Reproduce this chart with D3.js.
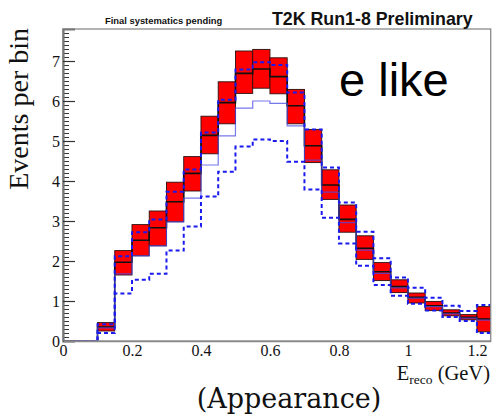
<!DOCTYPE html>
<html>
<head>
<meta charset="utf-8">
<script src="https://cdn.jsdelivr.net/npm/d3@7"></script>
<style>
  html, body { margin: 0; padding: 0; background: #fff; }
  svg { display: block; }
</style>
</head>
<body>
<div id="chart"></div>
<script>
// bins are 0.05 GeV wide, left edges
const binEdges = d3.range(0, 1.2501, 0.05).map(d => +d.toFixed(2));

// nominal prediction and its systematic band
const nominal = [0, 0, 0.35, 1.97, 2.52, 2.83, 3.48, 4.19, 5.14, 5.96, 6.69, 6.80, 6.61, 5.88, 4.88, 3.90, 3.04, 2.32, 1.73, 1.36, 1.09, 0.88, 0.70, 0.59, 0.55];
const bandLo  = [0, 0, 0.25, 1.65, 2.13, 2.38, 2.98, 3.75, 4.68, 5.43, 6.19, 6.32, 6.18, 5.43, 4.46, 3.54, 2.72, 2.04, 1.51, 1.21, 0.95, 0.76, 0.63, 0.53, 0.23];
const bandHi  = [0, 0, 0.46, 2.26, 2.91, 3.25, 3.97, 4.61, 5.62, 6.48, 7.25, 7.29, 7.08, 6.29, 5.29, 4.28, 3.40, 2.63, 1.96, 1.53, 1.20, 0.99, 0.78, 0.66, 0.86];

// other delta_CP predictions
const solidLine  = [0, 0, 0.33, 1.68, 2.13, 2.38, 2.98, 3.57, 4.40, 5.13, 5.82, 6.00, 5.94, 5.38, 4.52, 3.72, 2.96, 2.27, 1.69, 1.33, 1.07, 0.86, 0.68, 0.57, 0.52];
const dashedHigh = [0, 0, 0.42, 2.12, 2.72, 3.04, 3.73, 4.29, 5.21, 6.03, 6.79, 6.97, 6.90, 6.21, 5.29, 4.34, 3.46, 2.73, 2.07, 1.59, 1.33, 1.08, 0.88, 0.75, 0.90];
const dashedLow  = [0, 0, 0.20, 1.19, 1.53, 1.68, 2.26, 2.86, 3.61, 4.23, 4.86, 5.04, 5.00, 4.48, 3.79, 3.08, 2.44, 1.88, 1.40, 1.13, 0.93, 0.76, 0.60, 0.50, 0.20];

const xTicks = [0, 0.2, 0.4, 0.6, 0.8, 1, 1.2];

const W = 495, H = 415;
const m = { top: 29, right: 4.3, bottom: 74, left: 63 }; // frame at x 63..490.7, y 29..341

const svg = d3.select('#chart').append('svg')
  .attr('width', W).attr('height', H)
  .attr('viewBox', [0, 0, W, H]);

const x = d3.scaleLinear().domain([0, 1.24]).range([m.left, W - m.right]);
const y = d3.scaleLinear().domain([0, 7.8]).range([H - m.bottom, m.top]);

svg.append('clipPath').attr('id', 'frame')
  .append('rect')
  .attr('x', x(0)).attr('y', y(7.8))
  .attr('width', x(1.24) - x(0)).attr('height', y(0) - y(7.8));

const plot = svg.append('g').attr('clip-path', 'url(#frame)');

const bins = nominal.map((v, i) => ({
  x0: binEdges[i], x1: binEdges[i] + 0.05,
  nom: v, lo: bandLo[i], hi: bandHi[i]
}));

// step line through bin edges
const stepPts = vals => vals.map((v, i) => [binEdges[i], v]).concat([[binEdges[vals.length - 1] + 0.05, vals[vals.length - 1]]]);
const step = d3.line().x(d => x(d[0])).y(d => y(d[1])).curve(d3.curveStepAfter);

// systematic band boxes
plot.selectAll('rect.band')
  .data(bins.filter(b => b.hi > 0))
  .join('rect')
  .attr('class', 'band')
  .attr('x', d => x(d.x0))
  .attr('y', d => y(d.hi))
  .attr('width', d => x(d.x1) - x(d.x0))
  .attr('height', d => y(d.lo) - y(d.hi))
  .attr('fill', '#ff0000')
  .attr('stroke', '#2a1010')
  .attr('stroke-width', 0.9);

// nominal
plot.append('path')
  .attr('d', step(stepPts(nominal)))
  .attr('fill', 'none')
  .attr('stroke', '#111')
  .attr('stroke-width', 1.6);

// solid blue
plot.append('path')
  .attr('d', step(stepPts(solidLine)))
  .attr('fill', 'none')
  .attr('stroke', '#4a4ae6')
  .attr('stroke-opacity', 0.75)
  .attr('stroke-width', 1.2);

// dashed blue
[dashedHigh, dashedLow].forEach(vals => {
  plot.append('path')
    .attr('d', step(stepPts(vals)))
    .attr('fill', 'none')
    .attr('stroke', '#1a1aee')
    .attr('stroke-width', 2)
    .attr('stroke-dasharray', '4,3');
});

// frame
svg.append('rect')
  .attr('x', x(0)).attr('y', y(7.8))
  .attr('width', x(1.24) - x(0)).attr('height', y(0) - y(7.8))
  .attr('fill', 'none')
  .attr('stroke', '#8a8a8a')
  .attr('stroke-width', 1.3);

// y axis: minor ticks
svg.append('g')
  .attr('transform', `translate(${x(0)},0)`)
  .call(d3.axisLeft(y).ticks(78).tickSize(-6).tickFormat(''))
  .call(g => g.select('.domain').remove())
  .call(g => g.selectAll('line').attr('stroke', '#333').attr('stroke-width', 1));

// y axis: major ticks + labels
svg.append('g')
  .attr('transform', `translate(${x(0)},0)`)
  .call(d3.axisLeft(y).ticks(8).tickSize(-12).tickPadding(3).tickFormat(d3.format('d')))
  .call(g => g.select('.domain').attr('stroke', '#777').attr('stroke-width', 2.2))
  .call(g => g.selectAll('line').attr('stroke', '#333').attr('stroke-width', 1.2))
  .call(g => g.selectAll('text')
    .attr('font-family', '"Liberation Serif", "Times New Roman", serif')
    .attr('font-size', 16).attr('fill', '#111'));

// x axis labels
svg.append('g')
  .attr('transform', `translate(0,${y(0)})`)
  .call(d3.axisBottom(x).tickValues(xTicks).tickSize(0).tickPadding(4).tickFormat(d3.format('~g')))
  .call(g => g.select('.domain').attr('stroke', '#888').attr('stroke-width', 1.3))
  .call(g => g.selectAll('text')
    .attr('font-family', '"Liberation Serif", "Times New Roman", serif')
    .attr('font-size', 16).attr('fill', '#111'));

// axis titles
const xt = svg.append('text')
  .attr('x', 490).attr('y', 380)
  .attr('text-anchor', 'end')
  .attr('font-family', '"Liberation Serif", "Times New Roman", serif')
  .attr('font-size', 20.5).attr('fill', '#111');
xt.append('tspan').text('E');
xt.append('tspan').attr('font-size', 13.5).attr('dy', 4).text('reco');
xt.append('tspan').attr('dy', -4).text(' (GeV)');

svg.append('text')
  .attr('transform', 'translate(28,28) rotate(-90)')
  .attr('text-anchor', 'end')
  .attr('font-family', '"Liberation Serif", "Times New Roman", serif')
  .attr('font-size', 28).attr('fill', '#111')
  .text('Events per bin');

// header texts
svg.append('text')
  .attr('x', 105).attr('y', 24)
  .attr('font-family', '"Liberation Sans", Arial, sans-serif')
  .attr('font-weight', 'bold')
  .attr('font-size', 9.4).attr('fill', '#111')
  .text('Final systematics pending');

svg.append('text')
  .attr('x', 272).attr('y', 25)
  .attr('font-family', '"Liberation Sans", Arial, sans-serif')
  .attr('font-weight', 'bold')
  .attr('font-size', 17.8).attr('fill', '#111')
  .text('T2K Run1-8 Preliminary');

svg.append('text')
  .attr('x', 339).attr('y', 96)
  .attr('font-family', '"Liberation Sans", Arial, sans-serif')
  .attr('font-size', 47).attr('fill', '#000')
  .text('e like');

svg.append('text')
  .attr('x', 289).attr('y', 408)
  .attr('text-anchor', 'middle')
  .attr('font-family', '"DejaVu Serif", serif')
  .attr('font-size', 27).attr('fill', '#111')
  .text('(Appearance)');
</script>
</body>
</html>
